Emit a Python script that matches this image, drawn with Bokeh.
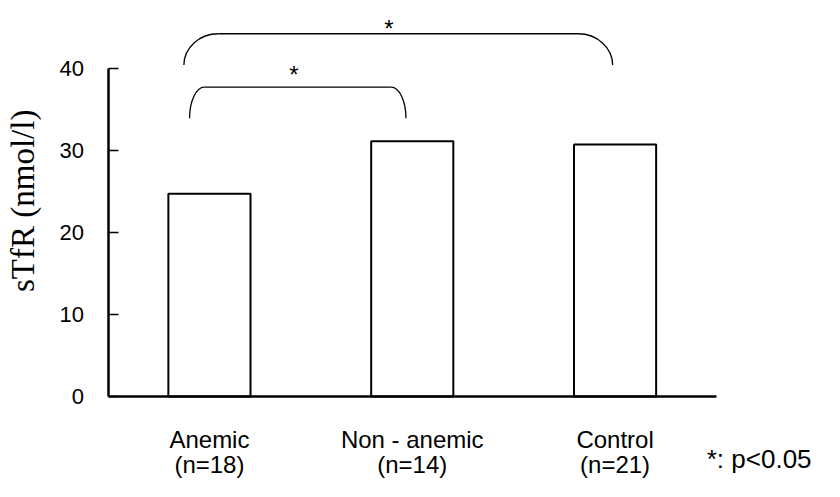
import numpy as np
from bokeh.plotting import figure
from bokeh.models import Range1d, FixedTicker
from bokeh.core.properties import value
from bokeh.embed import file_html
from bokeh.resources import INLINE

# ---- data ----
groups = ["Anemic", "Non - anemic", "Control"]
n_labels = ["(n=18)", "(n=14)", "(n=21)"]
stfr = [24.7, 31.1, 30.7]
y_ticks = [0, 10, 20, 30, 40]
y_title = "sTfR (nmol/l)"
note = "*: p<0.05"

# significance brackets (data units)
br_x0 = [0.874, 0.902]
br_x1 = [2.988, 1.969]
br_top = [44.2, 37.7]
br_end = [40.4, 33.9]
br_corner = [0.17, 0.073]
br_star_x = [1.885, 1.417]
br_star_y = [44.85, 39.25]
br_marks = ["*", "*"]

xpos = list(range(1, len(groups) + 1))

SANS = value("Liberation Sans")
SERIF = value("Liberation Serif")

p = figure(width=824, height=481,
           x_range=Range1d(-0.0302, 4.0326), y_range=Range1d(-10.34, 48.25),
           output_backend="svg", toolbar_location=None,
           min_border=0, outline_line_color=None)
p.grid.visible = False
p.background_fill_color = "white"
p.border_fill_color = "white"

# x axis
xa = p.xaxis[0]
xa.fixed_location = 0
xa.bounds = (0.5, 3.5)
xa.ticker = FixedTicker(ticks=[])
xa.major_label_text_font_size = "0px"
xa.major_tick_line_color = None
xa.minor_tick_line_color = None
xa.axis_line_width = 2.5
xa.axis_line_color = "black"

# y axis
ya = p.yaxis[0]
ya.fixed_location = 0.5
ya.bounds = (0, 40)
ya.ticker = FixedTicker(ticks=y_ticks)
ya.major_tick_in = 10
ya.major_tick_out = 0
ya.major_tick_line_width = 1.5
ya.major_tick_line_color = "black"
ya.minor_tick_line_color = None
ya.axis_line_width = 2.5
ya.axis_line_color = "black"
ya.major_label_standoff = 24
ya.major_label_text_font = "Liberation Sans"
ya.major_label_text_font_size = "22px"
ya.major_label_text_color = "black"

# bars
p.vbar(x=xpos, top=stfr, bottom=0, width=0.405,
       fill_color="white", line_color="black", line_width=2)

# brackets
for x0, x1, top, end, c in zip(br_x0, br_x1, br_top, br_end, br_corner):
    h = top - end
    p.bezier(x0=[x0, x1], y0=[end, end], x1=[x0 + c, x1 - c], y1=[top, top],
             cx0=[x0, x1], cy0=[end + 0.55 * h, end + 0.55 * h],
             cx1=[x0 + 0.45 * c, x1 - 0.45 * c], cy1=[top, top],
             line_color="black", line_width=1.3)
    p.segment(x0=[x0 + c], y0=[top], x1=[x1 - c], y1=[top],
              line_color="black", line_width=1.3)

p.text(x=br_star_x, y=br_star_y, text=br_marks, text_align="center",
       text_baseline="alphabetic", text_font=SANS,
       text_font_size=value("24px"), text_color="black")

# category labels
p.text(x=xpos, y=[-5.25] * len(groups), text=groups, text_align="center",
       text_baseline="alphabetic", text_font=SANS,
       text_font_size=value("24px"), text_color="black")
p.text(x=xpos, y=[-8.3] * len(groups), text=n_labels, text_align="center",
       text_baseline="alphabetic", text_font=SANS,
       text_font_size=value("24px"), text_color="black")

# note
p.text(x=[3.452], y=[-7.6], text=[note], text_align="left",
       text_baseline="alphabetic", text_font=SANS,
       text_font_size=value("26px"), text_color="black")

# y title
p.text(x=[0.0786], y=[23.85], text=[y_title], angle=np.pi / 2,
       text_align="center", text_baseline="middle", text_font=SERIF,
       text_font_size=value("33px"), text_color="black")

open("out.html", "w").write(file_html(p, INLINE))
